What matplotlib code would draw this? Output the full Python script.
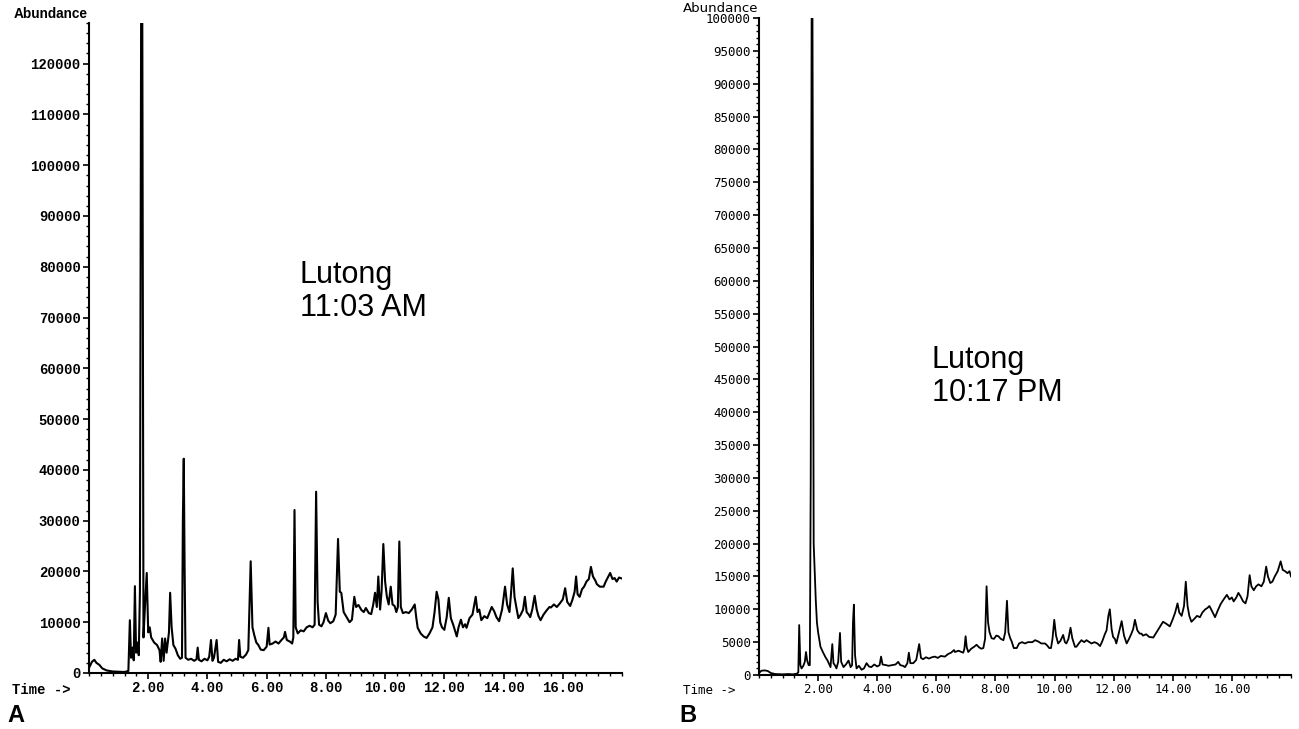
import matplotlib
matplotlib.use("Agg")
import numpy as np
from matplotlib import pyplot as plt
from matplotlib.ticker import MultipleLocator, FormatStrFormatter

# panel A, Lutong 11:03 AM  (retention time [min], abundance)
a_time = [0.00, 0.10, 0.18, 0.25, 0.35, 0.45, 0.60, 0.80, 1.00, 1.20, 1.33, 1.38, 1.42, 1.47, 1.51,
          1.55, 1.59, 1.64, 1.68, 1.72, 1.76, 1.80, 1.84, 1.88, 1.95, 2.00, 2.05, 2.10, 2.20, 2.30,
          2.38, 2.42, 2.47, 2.52, 2.57, 2.62, 2.70, 2.74, 2.79, 2.85, 2.92, 3.00, 3.08, 3.14, 3.17,
          3.20, 3.23, 3.26, 3.35, 3.45, 3.55, 3.63, 3.67, 3.71, 3.80, 3.90, 4.00, 4.06, 4.12, 4.17,
          4.22, 4.31, 4.36, 4.45, 4.55, 4.65, 4.75, 4.85, 4.95, 5.03, 5.07, 5.11, 5.20, 5.30, 5.38,
          5.46, 5.52, 5.58, 5.65, 5.72, 5.80, 5.90, 6.00, 6.06, 6.10, 6.20, 6.30, 6.40, 6.50, 6.58,
          6.62, 6.68, 6.78, 6.86, 6.90, 6.94, 6.98, 7.05, 7.15, 7.25, 7.35, 7.45, 7.55, 7.62, 7.67,
          7.72, 7.77, 7.85, 7.92, 8.00, 8.08, 8.15, 8.25, 8.33, 8.41, 8.47, 8.52, 8.60, 8.70, 8.80,
          8.88, 8.96, 9.02, 9.10, 9.20, 9.28, 9.35, 9.45, 9.53, 9.60, 9.66, 9.72, 9.77, 9.83, 9.88,
          9.94, 10.00, 10.06, 10.12, 10.19, 10.25, 10.32, 10.38, 10.43, 10.48, 10.53, 10.60, 10.70,
          10.80, 10.90, 11.00, 11.05, 11.10, 11.20, 11.30, 11.40, 11.50, 11.60, 11.67, 11.74, 11.80,
          11.86, 11.92, 12.00, 12.08, 12.15, 12.22, 12.30, 12.38, 12.42, 12.48, 12.56, 12.63, 12.70,
          12.75, 12.85, 12.95, 13.06, 13.12, 13.18, 13.25, 13.35, 13.45, 13.52, 13.60, 13.68, 13.76,
          13.85, 13.95, 14.05, 14.12, 14.20, 14.25, 14.31, 14.37, 14.43, 14.50, 14.58, 14.66, 14.72,
          14.78, 14.85, 14.90, 14.97, 15.05, 15.12, 15.18, 15.25, 15.35, 15.45, 15.55, 15.60, 15.70,
          15.80, 15.90, 16.00, 16.08, 16.15, 16.25, 16.33, 16.40, 16.45, 16.50, 16.57, 16.65, 16.72,
          16.80, 16.88, 16.95, 17.02, 17.10, 17.15, 17.25, 17.38, 17.45, 17.52, 17.60, 17.68, 17.75,
          17.82, 17.90, 18.00]
a_abund = [1000, 2200, 2600, 2000, 1600, 900, 500, 300, 250, 200, 400, 10400, 3000, 5000, 2500,
           17100, 4000, 6000, 3500, 16000, 128000, 128000, 7000, 12000, 19700, 8000, 9000, 7000, 6000, 5500,
           4500, 2200, 6800, 2400, 6800, 4000, 8000, 15800, 9000, 5500, 4800, 3500, 2800, 3000, 30000,
           42200, 20000, 3000, 2600, 2800, 2400, 2700, 5000, 2600, 2300, 2800, 2500, 3200, 6500, 2400,
           3000, 6500, 2200, 2000, 2600, 2300, 2700, 2400, 2800, 2600, 6500, 3200, 3000, 3600, 4500,
           22000, 9000, 7500, 6000, 5500, 4600, 4500, 5200, 8900, 5600, 5800, 6200, 5800, 6500, 7000,
           8100, 6500, 6200, 5800, 7000, 32100, 9000, 7800, 8400, 8200, 9000, 9300, 9000, 9500, 35700,
           14000, 9500, 9200, 10000, 11800, 10300, 9800, 10200, 11500, 26400, 16000, 15800, 12000, 11000, 10000,
           10500, 15000, 13000, 13400, 12400, 12000, 12800, 11800, 11600, 13500, 15800, 13000, 19000, 12500, 16000,
           25400, 18000, 15000, 13500, 17000, 13500, 13200, 12000, 13000, 25900, 13000, 11800, 12000,
           11800, 12500, 13500, 11000, 8900, 7800, 7200, 6900, 7800, 9000, 12000, 16000, 14500,
           10000, 9000, 8500, 11000, 14800, 10800, 9500, 8000, 7200, 9000, 10500, 9000, 9600,
           8900, 10800, 11500, 15000, 12000, 12500, 10400, 11200, 10800, 11800, 13000, 12200, 11000,
           10200, 12500, 17000, 13500, 12000, 15500, 20600, 15000, 13000, 10800, 11500, 12500, 15000,
           12000, 11500, 11000, 12500, 15200, 12500, 11200, 10400, 11500, 12300, 13000, 12900, 13500,
           13000, 13700, 14500, 16700, 14000, 13200, 14500, 16000, 19000, 15500, 15000, 16500, 17000,
           18000, 18500, 20900, 19000, 18200, 17500, 17000, 17000, 18000, 18800, 19700, 18500, 18700,
           18000, 18800, 18600]

# panel B, Lutong 10:17 PM
b_time = [0.00, 0.08, 0.20, 0.30, 0.40, 0.55, 0.80, 1.00, 1.15, 1.28, 1.33, 1.36, 1.40, 1.44, 1.50,
          1.55, 1.59, 1.63, 1.68, 1.72, 1.75, 1.78, 1.81, 1.85, 1.92, 1.96, 2.00, 2.08, 2.16, 2.25,
          2.32, 2.37, 2.42, 2.48, 2.52, 2.58, 2.62, 2.68, 2.74, 2.78, 2.86, 2.94, 3.03, 3.10, 3.15,
          3.18, 3.21, 3.25, 3.30, 3.38, 3.47, 3.55, 3.64, 3.72, 3.80, 3.90, 4.00, 4.08, 4.13, 4.18,
          4.30, 4.38, 4.50, 4.62, 4.71, 4.78, 4.87, 4.94, 5.02, 5.07, 5.12, 5.22, 5.32, 5.42, 5.48,
          5.55, 5.65, 5.75, 5.85, 5.95, 6.05, 6.15, 6.29, 6.40, 6.50, 6.60, 6.63, 6.75, 6.85, 6.91,
          6.95, 6.99, 7.03, 7.08, 7.18, 7.28, 7.36, 7.45, 7.52, 7.59, 7.65, 7.70, 7.75, 7.80, 7.87,
          7.95, 8.03, 8.10, 8.18, 8.27, 8.33, 8.39, 8.44, 8.50, 8.55, 8.62, 8.72, 8.80, 8.90, 9.00,
          9.10, 9.25, 9.34, 9.45, 9.55, 9.68, 9.75, 9.82, 9.88, 9.93, 9.99, 10.05, 10.12, 10.20, 10.29,
          10.35, 10.40, 10.47, 10.54, 10.60, 10.69, 10.74, 10.82, 10.91, 11.00, 11.08, 11.18, 11.25,
          11.35, 11.45, 11.54, 11.62, 11.70, 11.76, 11.82, 11.87, 11.93, 11.98, 12.04, 12.09, 12.18,
          12.27, 12.35, 12.44, 12.52, 12.60, 12.66, 12.72, 12.80, 12.88, 12.94, 12.99, 13.10, 13.20,
          13.34, 13.45, 13.55, 13.67, 13.78, 13.90, 14.00, 14.08, 14.16, 14.22, 14.30, 14.38, 14.44,
          14.50, 14.56, 14.63, 14.72, 14.82, 14.92, 15.00, 15.10, 15.17, 15.24, 15.32, 15.43, 15.52,
          15.62, 15.72, 15.83, 15.92, 16.00, 16.06, 16.15, 16.22, 16.29, 16.38, 16.46, 16.53, 16.60,
          16.66, 16.74, 16.82, 16.90, 17.00, 17.08, 17.16, 17.22, 17.30, 17.37, 17.45, 17.55, 17.65,
          17.72, 17.80, 17.88, 17.95, 18.00]
b_abund = [300, 650, 700, 600, 300, 150, 100, 150, 100, 200, 400, 7600, 1500, 1000, 1400,
           2000, 3500, 2200, 1500, 1500, 30000, 100000, 100000, 20000, 11500, 8000, 6500, 4300, 3500, 2700,
           2200, 1700, 1200, 4700, 1800, 1400, 1000, 2000, 6400, 2000, 1200, 1600, 2200, 1200, 1500,
           8000, 10700, 3000, 1000, 1400, 800, 1000, 1800, 1300, 1200, 1600, 1300, 1500, 2800, 1600,
           1500, 1400, 1500, 1600, 2000, 1500, 1400, 1200, 1800, 3400, 1800, 1800, 2300, 4700, 2600,
           2400, 2700, 2500, 2700, 2800, 2600, 2900, 2800, 3200, 3400, 3800, 3500, 3700, 3500, 3400,
           4000, 5900, 4200, 3500, 4000, 4300, 4600, 4200, 4000, 4100, 5500, 13500, 8000, 6500, 5600,
           5500, 6000, 5900, 5500, 5300, 6500, 11300, 6500, 5600, 5100, 4100, 4100, 4800, 5000, 4800,
           5000, 5000, 5300, 5100, 4800, 4800, 4500, 4100, 4100, 5500, 8400, 6000, 4800, 5200, 6100,
           5000, 4800, 5500, 7200, 5600, 4300, 4300, 4800, 5300, 5000, 5300, 5000, 4800,
           5000, 4800, 4400, 5200, 6200, 6800, 9000, 10000, 7000, 5800, 5500, 4800, 6500,
           8200, 6000, 4800, 5500, 6300, 7000, 8400, 6800, 6300, 6300, 6000, 6200, 5800,
           5700, 6500, 7200, 8100, 7800, 7400, 8500, 9500, 10900, 9500, 9000, 10500, 14200,
           10500, 9000, 8100, 8500, 9000, 8800, 9500, 10000, 10200, 10500, 9800, 8800, 9800,
           10800, 11500, 12200, 11500, 11800, 11200, 11800, 12500, 12000, 11200, 10900, 12000, 15200,
           13500, 12900, 13500, 13800, 13500, 14200, 16500, 15000, 14000, 14200, 15000, 15800, 17300,
           16000, 15800, 15500, 15800, 15000]

W, H = 1299, 729
fig = plt.figure(figsize=(W / 100, H / 100), dpi=100)


def px(x, y):
    return x / W, 1 - y / H


def style_axis(ax, ymax, ymajor, yminor, font):
    ax.set_xlim(0, 18)
    ax.set_ylim(0, ymax)
    for s in ["top", "right"]:
        ax.spines[s].set_visible(False)
    for s in ["left", "bottom"]:
        ax.spines[s].set_linewidth(1.5)
    ax.xaxis.set_major_locator(MultipleLocator(2))
    ax.xaxis.set_minor_locator(MultipleLocator(0.4))
    ax.xaxis.set_major_formatter(FormatStrFormatter("%.2f"))
    ax.yaxis.set_major_locator(MultipleLocator(ymajor))
    ax.yaxis.set_minor_locator(MultipleLocator(yminor))
    ax.yaxis.set_major_formatter(FormatStrFormatter("%d"))
    ax.tick_params(which="major", length=4, width=1.2, pad=2)
    ax.tick_params(which="minor", length=2.5, width=1.0)
    ax.set_xticks([t for t in ax.get_xticks() if 0 < t < 18])
    for lab in ax.get_xticklabels() + ax.get_yticklabels():
        lab.set_fontproperties(font)


# panel A
ax1 = fig.add_axes([89 / W, 1 - 673 / H, 533 / W, 650 / H])
ax1.plot(a_time, a_abund, color="black", lw=1.5)
fontA = matplotlib.font_manager.FontProperties(family="Liberation Mono", weight="bold", size=10)
style_axis(ax1, 128000, 10000, 2000, fontA)

# panel B
ax2 = fig.add_axes([759 / W, 1 - 675 / H, 532 / W, 657 / H])
ax2.plot(b_time, b_abund, color="black", lw=1.3)
fontB = matplotlib.font_manager.FontProperties(family="DejaVu Sans Mono", size=9)
style_axis(ax2, 100000, 5000, 1000, fontB)

# labels
fig.text(*px(14, 14), "Abundance", fontsize=9.8, fontweight="bold",
         family="Liberation Sans", va="center", ha="left")
fig.text(*px(683, 9), "Abundance", fontsize=9.6, family="DejaVu Sans",
         va="center", ha="left")
fig.text(*px(12, 690), "Time ->", fontproperties=fontA, va="center", ha="left")
fig.text(*px(683, 690), "Time ->", fontproperties=fontB, va="center", ha="left")
fig.text(*px(7, 716), "A", fontsize=17, fontweight="bold", family="Liberation Sans",
         va="center", ha="left")
fig.text(*px(679, 716), "B", fontsize=17, fontweight="bold", family="Liberation Sans",
         va="center", ha="left")

fig.text(*px(300, 260), "Lutong\n11:03 AM", fontsize=22, family="Liberation Sans",
         va="top", ha="left", linespacing=1.15)
fig.text(*px(932, 345), "Lutong\n10:17 PM", fontsize=22, family="Liberation Sans",
         va="top", ha="left", linespacing=1.15)

fig.savefig("out.png", dpi=100)
